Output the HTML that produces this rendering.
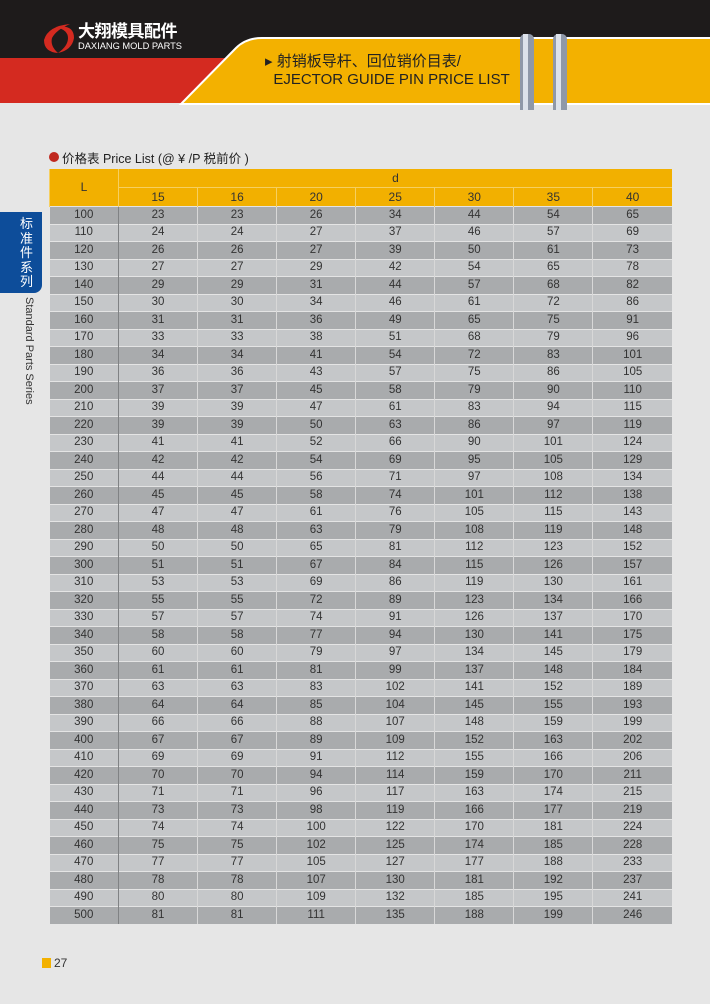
<!DOCTYPE html>
<html><head><meta charset="utf-8"><style>
body{margin:0;width:710px;height:1004px;background:#e6e6e6;position:relative;overflow:hidden;font-family:"Liberation Sans","Noto Sans CJK SC",sans-serif;}
.abs{position:absolute}
table{position:absolute;left:49px;top:169px;width:623px;border-collapse:collapse;table-layout:fixed;font-size:11.5px;color:#333;}
td{text-align:center;padding:0;height:16.5px;border-top:1px solid #e4e4e4;border-left:1px solid #d8d8d8;line-height:15px;}
tr.h td{background:#f2b000;border-left:1px solid #f6cf60;border-top:none;height:18px;font-size:12px;color:#333}
tbody tr:nth-child(odd) td{background:#a9abad}
tbody tr:nth-child(even) td{background:#c5c7c9}
td.l{border-left:none;}
tbody td:nth-child(2){border-left:1px solid #808284}
</style></head><body>
<div class="abs" style="left:0;top:0;width:710px;height:103px;background:#1e1b1b"></div>
<div class="abs" style="left:0;top:58px;width:300px;height:45px;background:#d42a20"></div>
<svg class="abs" style="left:0;top:0" width="710" height="110">
<path d="M181,104 L236,48 Q246,38 262,38 L712,38 L712,104 Z" fill="#f3b100" stroke="#fff" stroke-width="2"/>
<rect x="520" y="34" width="14" height="88" rx="5" fill="#8f98a8"/><rect x="523" y="34" width="5" height="88" fill="#dde2ea"/>
<rect x="553" y="34" width="14" height="88" rx="5" fill="#8f98a8"/><rect x="556" y="34" width="5" height="88" fill="#dde2ea"/>
<path d="M70,24 Q48,26 44,40 Q44,52 58,53 Q50,46 52,38 Q56,30 70,24 Z" fill="#d42a20"/>
<path d="M56,27 Q74,24 74,38 Q72,50 58,53 Q68,46 68,38 Q68,30 56,27 Z" fill="#d42a20"/>
</svg>
<div class="abs" style="left:78px;top:22px;color:#fff;font-weight:bold;font-size:17px;line-height:20px;letter-spacing:-0.5px;white-space:nowrap">大翔模具配件</div>
<div class="abs" style="left:78px;top:41px;color:#fff;font-size:9.3px;line-height:10px;white-space:nowrap">DAXIANG MOLD PARTS</div>
<div class="abs" style="left:265px;top:53px;color:#222;font-size:15px;line-height:18px;white-space:nowrap">▸ 射销板导杆、回位销价目表/<br>&nbsp;&nbsp;EJECTOR GUIDE PIN PRICE LIST</div>
<div class="abs" style="left:49px;top:152px;width:10px;height:10px;border-radius:50%;background:#c0281f"></div>
<div class="abs" style="left:62px;top:148px;font-size:12.5px;color:#222">价格表 Price List (@ ¥ /P 税前价 )</div>
<div class="abs" style="left:0;top:212px;width:42px;height:81px;background:#0d4d9a;border-radius:0 0 8px 0"></div>
<div class="abs" style="left:20px;top:217px;width:14px;color:#fff;font-size:13px;line-height:14.5px">标准件系列</div>
<div class="abs" style="left:23px;top:297px;writing-mode:vertical-rl;font-size:11px;color:#333">Standard Parts Series</div>
<div class="abs" style="left:42px;top:958px;width:9px;height:10px;background:#f3b100"></div>
<div class="abs" style="left:54px;top:956px;font-size:12px;color:#333">27</div>
<table>
<colgroup><col style="width:69px"><col span="7"></colgroup>
<thead>
<tr class="h"><td rowspan="2" class="l">L</td><td colspan="7">d</td></tr>
<tr class="h"><td style="border-top:1px solid #f6cf60">15</td><td style="border-top:1px solid #f6cf60">16</td><td style="border-top:1px solid #f6cf60">20</td><td style="border-top:1px solid #f6cf60">25</td><td style="border-top:1px solid #f6cf60">30</td><td style="border-top:1px solid #f6cf60">35</td><td style="border-top:1px solid #f6cf60">40</td></tr>
</thead>
<tbody>
<tr><td class="l">100</td><td>23</td><td>23</td><td>26</td><td>34</td><td>44</td><td>54</td><td>65</td></tr>
<tr><td class="l">110</td><td>24</td><td>24</td><td>27</td><td>37</td><td>46</td><td>57</td><td>69</td></tr>
<tr><td class="l">120</td><td>26</td><td>26</td><td>27</td><td>39</td><td>50</td><td>61</td><td>73</td></tr>
<tr><td class="l">130</td><td>27</td><td>27</td><td>29</td><td>42</td><td>54</td><td>65</td><td>78</td></tr>
<tr><td class="l">140</td><td>29</td><td>29</td><td>31</td><td>44</td><td>57</td><td>68</td><td>82</td></tr>
<tr><td class="l">150</td><td>30</td><td>30</td><td>34</td><td>46</td><td>61</td><td>72</td><td>86</td></tr>
<tr><td class="l">160</td><td>31</td><td>31</td><td>36</td><td>49</td><td>65</td><td>75</td><td>91</td></tr>
<tr><td class="l">170</td><td>33</td><td>33</td><td>38</td><td>51</td><td>68</td><td>79</td><td>96</td></tr>
<tr><td class="l">180</td><td>34</td><td>34</td><td>41</td><td>54</td><td>72</td><td>83</td><td>101</td></tr>
<tr><td class="l">190</td><td>36</td><td>36</td><td>43</td><td>57</td><td>75</td><td>86</td><td>105</td></tr>
<tr><td class="l">200</td><td>37</td><td>37</td><td>45</td><td>58</td><td>79</td><td>90</td><td>110</td></tr>
<tr><td class="l">210</td><td>39</td><td>39</td><td>47</td><td>61</td><td>83</td><td>94</td><td>115</td></tr>
<tr><td class="l">220</td><td>39</td><td>39</td><td>50</td><td>63</td><td>86</td><td>97</td><td>119</td></tr>
<tr><td class="l">230</td><td>41</td><td>41</td><td>52</td><td>66</td><td>90</td><td>101</td><td>124</td></tr>
<tr><td class="l">240</td><td>42</td><td>42</td><td>54</td><td>69</td><td>95</td><td>105</td><td>129</td></tr>
<tr><td class="l">250</td><td>44</td><td>44</td><td>56</td><td>71</td><td>97</td><td>108</td><td>134</td></tr>
<tr><td class="l">260</td><td>45</td><td>45</td><td>58</td><td>74</td><td>101</td><td>112</td><td>138</td></tr>
<tr><td class="l">270</td><td>47</td><td>47</td><td>61</td><td>76</td><td>105</td><td>115</td><td>143</td></tr>
<tr><td class="l">280</td><td>48</td><td>48</td><td>63</td><td>79</td><td>108</td><td>119</td><td>148</td></tr>
<tr><td class="l">290</td><td>50</td><td>50</td><td>65</td><td>81</td><td>112</td><td>123</td><td>152</td></tr>
<tr><td class="l">300</td><td>51</td><td>51</td><td>67</td><td>84</td><td>115</td><td>126</td><td>157</td></tr>
<tr><td class="l">310</td><td>53</td><td>53</td><td>69</td><td>86</td><td>119</td><td>130</td><td>161</td></tr>
<tr><td class="l">320</td><td>55</td><td>55</td><td>72</td><td>89</td><td>123</td><td>134</td><td>166</td></tr>
<tr><td class="l">330</td><td>57</td><td>57</td><td>74</td><td>91</td><td>126</td><td>137</td><td>170</td></tr>
<tr><td class="l">340</td><td>58</td><td>58</td><td>77</td><td>94</td><td>130</td><td>141</td><td>175</td></tr>
<tr><td class="l">350</td><td>60</td><td>60</td><td>79</td><td>97</td><td>134</td><td>145</td><td>179</td></tr>
<tr><td class="l">360</td><td>61</td><td>61</td><td>81</td><td>99</td><td>137</td><td>148</td><td>184</td></tr>
<tr><td class="l">370</td><td>63</td><td>63</td><td>83</td><td>102</td><td>141</td><td>152</td><td>189</td></tr>
<tr><td class="l">380</td><td>64</td><td>64</td><td>85</td><td>104</td><td>145</td><td>155</td><td>193</td></tr>
<tr><td class="l">390</td><td>66</td><td>66</td><td>88</td><td>107</td><td>148</td><td>159</td><td>199</td></tr>
<tr><td class="l">400</td><td>67</td><td>67</td><td>89</td><td>109</td><td>152</td><td>163</td><td>202</td></tr>
<tr><td class="l">410</td><td>69</td><td>69</td><td>91</td><td>112</td><td>155</td><td>166</td><td>206</td></tr>
<tr><td class="l">420</td><td>70</td><td>70</td><td>94</td><td>114</td><td>159</td><td>170</td><td>211</td></tr>
<tr><td class="l">430</td><td>71</td><td>71</td><td>96</td><td>117</td><td>163</td><td>174</td><td>215</td></tr>
<tr><td class="l">440</td><td>73</td><td>73</td><td>98</td><td>119</td><td>166</td><td>177</td><td>219</td></tr>
<tr><td class="l">450</td><td>74</td><td>74</td><td>100</td><td>122</td><td>170</td><td>181</td><td>224</td></tr>
<tr><td class="l">460</td><td>75</td><td>75</td><td>102</td><td>125</td><td>174</td><td>185</td><td>228</td></tr>
<tr><td class="l">470</td><td>77</td><td>77</td><td>105</td><td>127</td><td>177</td><td>188</td><td>233</td></tr>
<tr><td class="l">480</td><td>78</td><td>78</td><td>107</td><td>130</td><td>181</td><td>192</td><td>237</td></tr>
<tr><td class="l">490</td><td>80</td><td>80</td><td>109</td><td>132</td><td>185</td><td>195</td><td>241</td></tr>
<tr><td class="l">500</td><td>81</td><td>81</td><td>111</td><td>135</td><td>188</td><td>199</td><td>246</td></tr>
</tbody></table>
</body></html>
